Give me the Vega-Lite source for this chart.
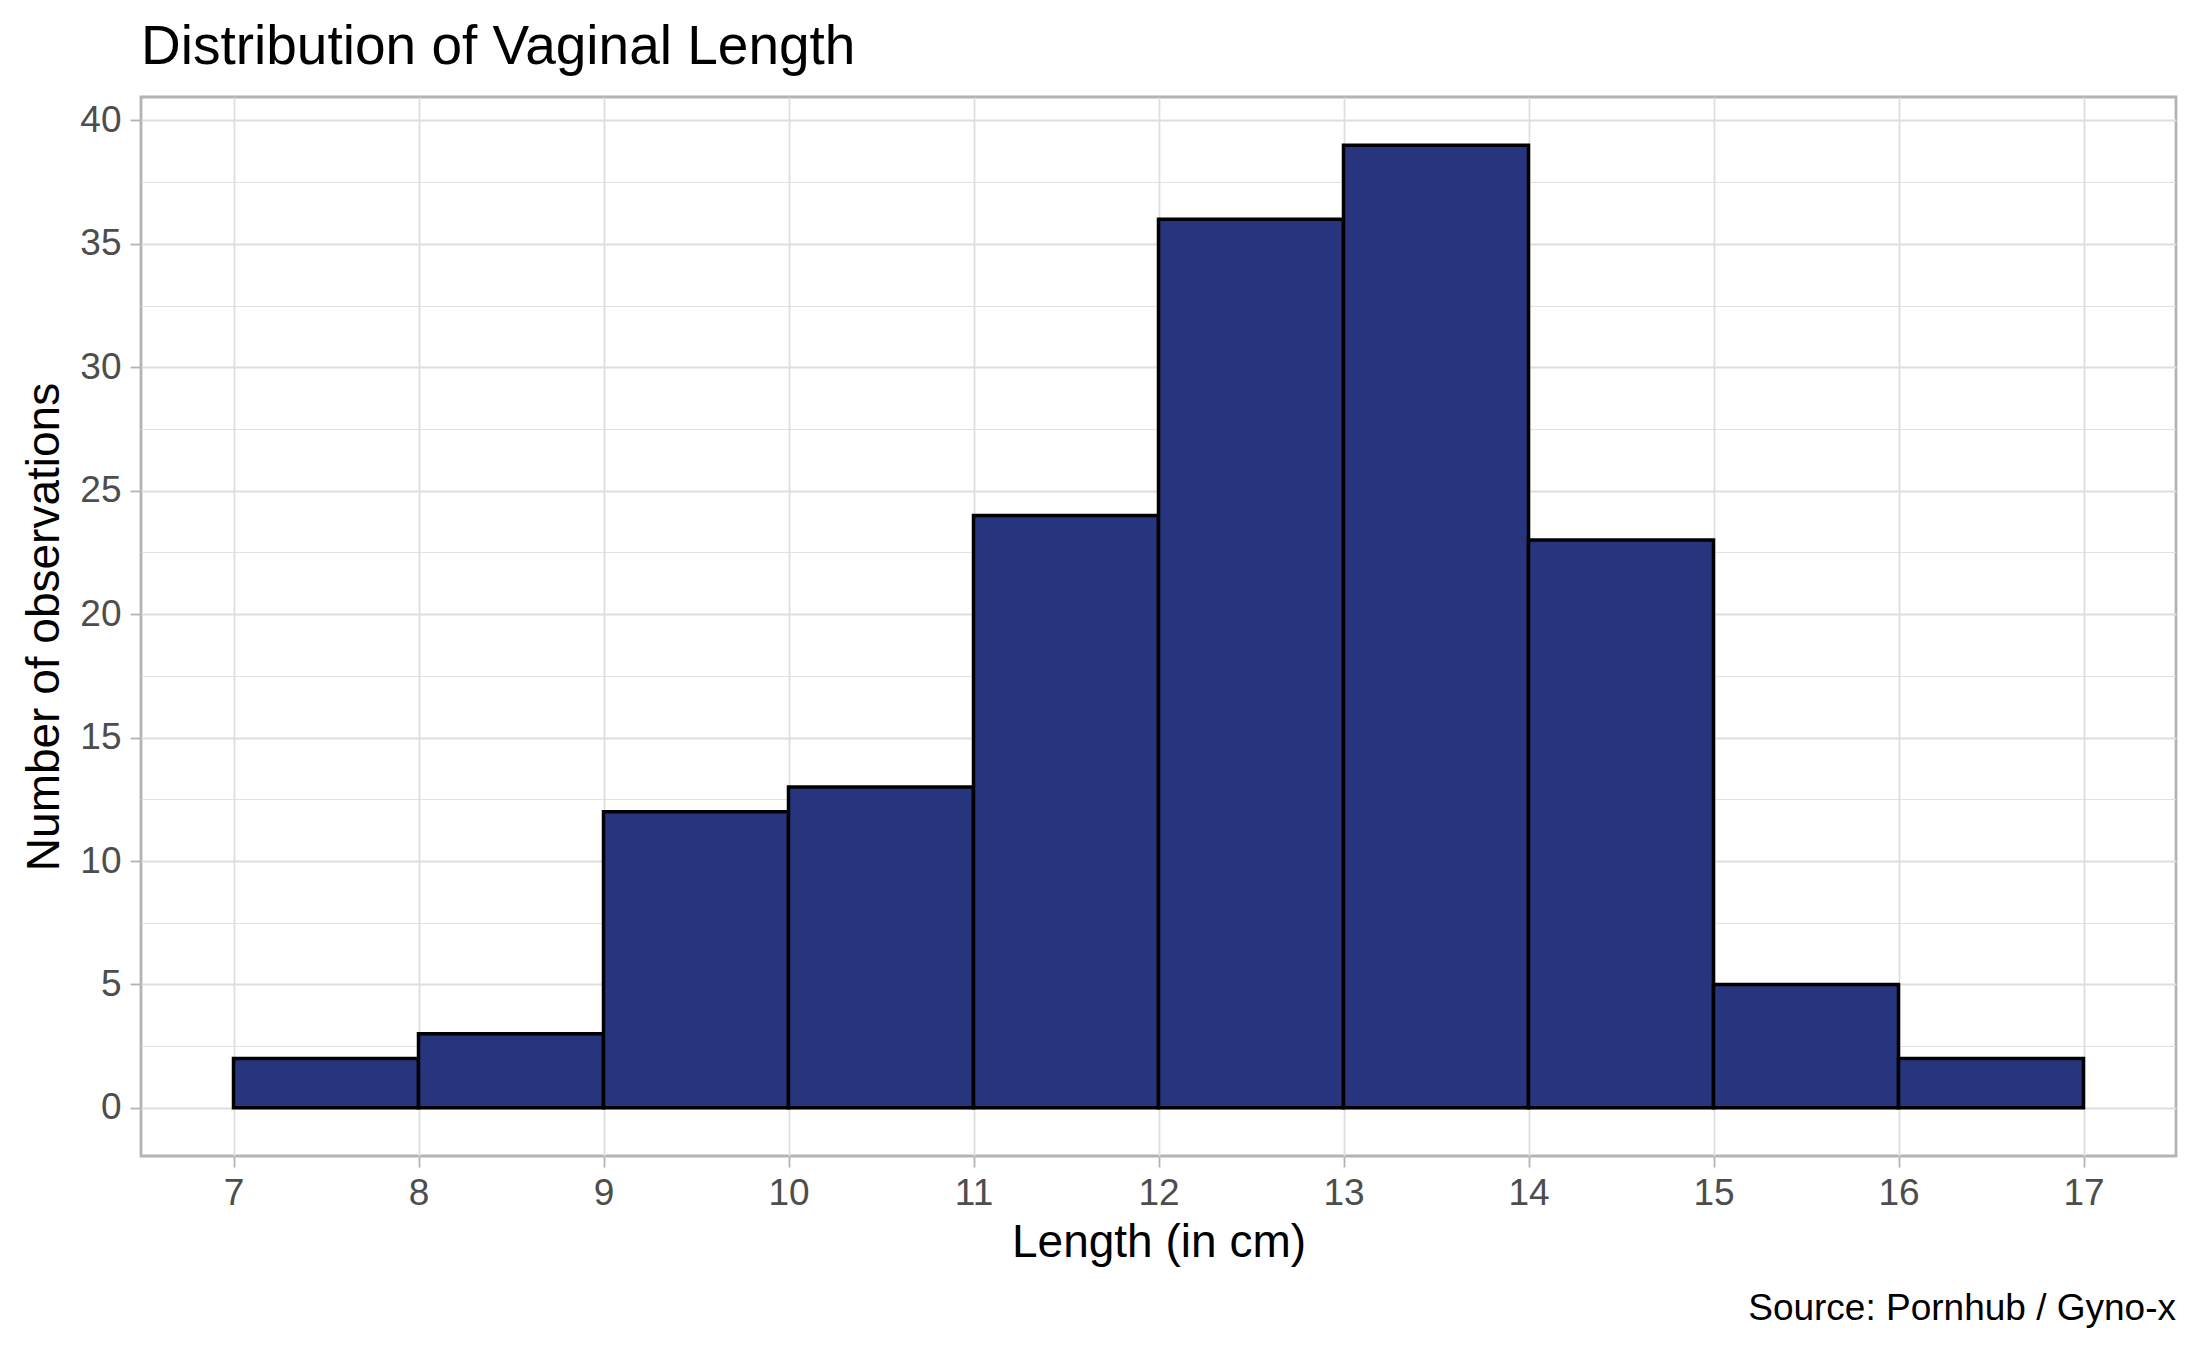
{
  "$schema": "https://vega.github.io/schema/vega-lite/v6.json",
  "width": 2035,
  "height": 1059,
  "autosize": {"type": "none"},
  "padding": {"left": 141, "top": 97, "right": 11, "bottom": 194},
  "background": "white",
  "title": {
    "text": "Distribution of Vaginal Length",
    "anchor": "start",
    "frame": "group",
    "baseline": "alphabetic",
    "offset": -22,
    "font": "Liberation Sans",
    "fontSize": 55,
    "fontWeight": "normal",
    "color": "black"
  },
  "data": {
    "values": [
      {"bin_start": 7, "bin_end": 8, "count": 2},
      {"bin_start": 8, "bin_end": 9, "count": 3},
      {"bin_start": 9, "bin_end": 10, "count": 12},
      {"bin_start": 10, "bin_end": 11, "count": 13},
      {"bin_start": 11, "bin_end": 12, "count": 24},
      {"bin_start": 12, "bin_end": 13, "count": 36},
      {"bin_start": 13, "bin_end": 14, "count": 39},
      {"bin_start": 14, "bin_end": 15, "count": 23},
      {"bin_start": 15, "bin_end": 16, "count": 5},
      {"bin_start": 16, "bin_end": 17, "count": 2}
    ]
  },
  "layer": [
    {
      "mark": {"type": "bar", "fill": "#27357f", "stroke": "black", "strokeWidth": 3.5},
      "encoding": {
        "x": {
          "field": "bin_start",
          "type": "quantitative",
          "title": "Length (in cm)",
          "scale": {"domain": [6.5, 17.5], "nice": false, "zero": false},
          "axis": {
            "values": [7, 8, 9, 10, 11, 12, 13, 14, 15, 16, 17],
            "format": "d",
            "labelPadding": 8,
            "titlePadding": 9
          }
        },
        "x2": {"field": "bin_end"},
        "y": {
          "field": "count",
          "type": "quantitative",
          "title": "Number of observations",
          "scale": {"domain": [-1.95, 40.95], "nice": false, "zero": false},
          "axis": {
            "values": [0, 2.5, 5, 7.5, 10, 12.5, 15, 17.5, 20, 22.5, 25, 27.5, 30, 32.5, 35, 37.5, 40],
            "labelExpr": "datum.value % 5 === 0 ? format(datum.value, 'd') : ''",
            "tickOpacity": {"condition": {"test": "datum.value % 5 !== 0", "value": 0}, "value": 1},
            "gridWidth": {"condition": {"test": "datum.value % 5 !== 0", "value": 0.9}, "value": 1.8},
            "labelPadding": 9,
            "titlePadding": 11
          }
        },
        "y2": {"datum": 0}
      }
    },
    {
      "data": {"values": [{"caption": "Source: Pornhub / Gyno-x"}]},
      "mark": {
        "type": "text",
        "align": "right",
        "baseline": "alphabetic",
        "dy": 164,
        "font": "Liberation Sans",
        "fontSize": 37,
        "color": "black"
      },
      "encoding": {
        "text": {"field": "caption", "type": "nominal"},
        "x": {"value": "width"},
        "y": {"value": "height"}
      }
    }
  ],
  "config": {
    "view": {"stroke": "#b3b3b3", "strokeWidth": 2.8},
    "axis": {
      "domain": false,
      "grid": true,
      "gridColor": "#dedede",
      "gridWidth": 1.8,
      "ticks": true,
      "tickColor": "#b3b3b3",
      "tickWidth": 1.8,
      "tickSize": 11,
      "labelFont": "Liberation Sans",
      "labelFontSize": 37,
      "labelColor": "#4d4d4d",
      "titleFont": "Liberation Sans",
      "titleFontSize": 46,
      "titleFontWeight": "normal",
      "titleColor": "black",
      "labelFlush": false,
      "labelOverlap": false
    }
  }
}
